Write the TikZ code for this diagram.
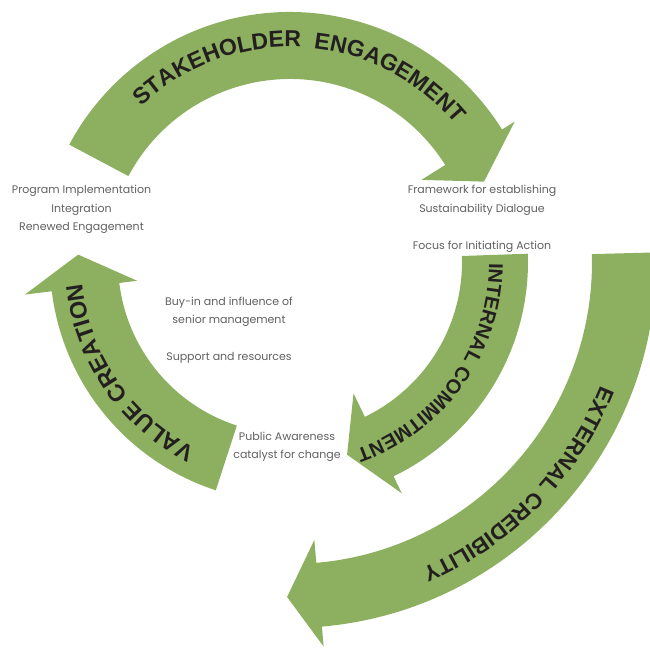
\documentclass[tikz,border=0pt]{standalone}
\usepackage{fontspec}
\usetikzlibrary{decorations.text}
\newfontfamily\arcfont{Liberation Sans}
\newfontfamily\notefont{Poppins}
\definecolor{leaf}{RGB}{140,176,95}
\definecolor{ink}{RGB}{35,31,32}
\definecolor{notegray}{RGB}{96,96,96}

\begin{document}
\begin{tikzpicture}[x=1pt,y=1pt,
  band/.style={fill=leaf},
  note/.style={font=\notefont\fontsize{11}{18.5}\selectfont, text=notegray, align=center, inner sep=0pt},
]
\useasboundingbox (0,0) rectangle (650,-648);

\begin{scope}
  \clip (0,0) rectangle (650,-648);
  \begin{scope}[shift={(290,-262)}]
    % stakeholder engagement: upper arc, left to right
    \fill[band] (152:183) arc[start angle=152, end angle=32, radius=183]
      -- (32:155) -- (22.5:210) -- (32:265) -- (32:250)
      arc[start angle=32, end angle=152, radius=250] -- cycle;
    % internal commitment: inner right arc, downwards
    \fill[band] (2:172) arc[start angle=2, end angle=-64.2, radius=172]
      -- (-64.2:146) -- (-73.5:201) -- (-64.2:257) -- (-64.2:238)
      arc[start angle=-64.2, end angle=2, radius=238] -- cycle;
    % value creation: left arc, upwards
    \fill[band] (252:172) arc[start angle=252, end angle=187, radius=172]
      -- (187:154) -- (178:212) -- (187:267) -- (187:240)
      arc[start angle=187, end angle=252, radius=240] -- cycle;
    % external credibility: outer right arc, downwards
    \fill[band] (1.5:302) arc[start angle=1.5, end angle=-85, radius=302]
      -- (-85:279) -- (-90.5:335) -- (-85:386) -- (-85:366)
      arc[start angle=-85, end angle=1.5, radius=366] -- cycle;

    % lettering along the arcs
    \path[decorate, decoration={text along path, text align=center, text color=ink,
        text={|\arcfont\bfseries\fontsize{23}{23}\selectfont|STAKEHOLDER{\ \ }ENGAGEMENT}}]
      (146.75:215) arc[start angle=146.75, end angle=26.75, radius=215];
    \path[decorate, decoration={text along path, text align=center, text color=ink,
        text={|\arcfont\bfseries\fontsize{20}{20}\selectfont|INTERNAL COMMITMENT}}]
      (14.5:199) arc[start angle=14.5, end angle=-85.5, radius=199];
    \path[decorate, decoration={text along path, text align=center, text color=ink,
        text={|\arcfont\bfseries\fontsize{23.5}{23.5}\selectfont|VALUE CREATION}}]
      (264.5:209) arc[start angle=264.5, end angle=164.5, radius=209];
    \path[decorate, decoration={text along path, text align=center, text color=ink,
        text={|\arcfont\bfseries\fontsize{22}{22}\selectfont|EXTERNAL CREDIBILITY}}]
      (0:334) arc[start angle=0, end angle=-88.4, radius=334];
  \end{scope}
\end{scope}

% notes between the arrows
\node[note] (program) at (81.5,-209.5) {Program Implementation\\Integration\\Renewed Engagement};
\node[note] (framework) at (482,-200.5) {Framework for establishing\\Sustainability Dialogue};
\node[note] (focus) at (482,-247) {Focus for Initiating Action};
\node[note] (buyin) at (229,-312) {Buy-in and influence of\\senior management};
\node[note] (support) at (229,-358) {Support and resources};
\node[note] (public) at (287,-447) {Public Awareness\\catalyst for change};
\end{tikzpicture}
\end{document}
